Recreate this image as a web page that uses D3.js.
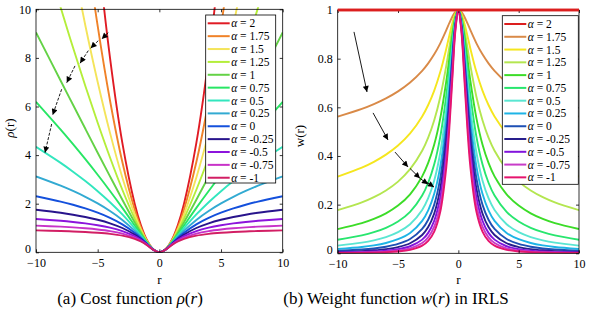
<!DOCTYPE html>
<html><head><meta charset="utf-8">
<script src="https://cdn.jsdelivr.net/npm/d3@7"></script>
<style>
html,body{margin:0;padding:0;background:#fff;}
svg{display:block;}
text{font-family:"Liberation Serif","Times New Roman",serif;fill:#000;}
</style></head>
<body>
<svg id="chart" width="589" height="321"></svg>
<script>
// ---------------- DATA ----------------
const alphaLabels = ["2","1.75","1.5","1.25","1","0.75","0.5","0.25","0","-0.25","-0.5","-0.75","-1"];
const colorsLeft  = ["#e01b24","#f08228","#f4e45a","#b4ee3a","#64d246","#28e664","#32e6be","#32aad2","#1450dc","#28148c","#8c14dc","#c832c8","#d21e64"];
const colorsRight = ["#dc1e1e","#d98a48","#f5e61e","#b4e650","#3cdc28","#28e66e","#5ae6d2","#1eb4e6","#1e50b4","#281e8c","#8214dc","#c83cc8","#e6146e"];

const xTicks = [-10,-5,0,5,10];
const yTicksLeft = [0,2,4,6,8,10];
const yTicksRight = [0,0.2,0.4,0.6,0.8,1];

// cost function rho(r)
const rhoR = [-10,-8,-7,-6,-5,-4,-3,-2,-1.5,-1,-0.5,0,0.5,1,1.5,2,3,4,5,6,7,8,10];
const rho_a2    = [50,32,24.5,18,12.5,8,4.5,2,1.125,0.5,0.125,0,0.125,0.5,1.125,2,4.5,8,12.5,18,24.5,32,50];
const rho_a175  = [31.84,21.47,16.95,12.89,9.315,6.246,3.714,1.765,1.031,0.477,0.123,0,0.123,0.477,1.031,1.765,3.714,6.246,9.315,12.89,16.95,21.47,31.84];
const rho_a15   = [20.57,14.59,11.87,9.335,7.009,4.915,3.082,1.563,0.947,0.455,0.122,0,0.122,0.455,0.947,1.563,3.082,4.915,7.009,9.335,11.87,14.59,20.57];
const rho_a125  = [13.52,10.07,8.425,6.843,5.329,3.900,2.574,1.388,0.871,0.434,0.120,0,0.120,0.434,0.871,1.388,2.574,3.900,5.329,6.843,8.425,10.07,13.52];
const rho_a1    = [9.050,7.062,6.071,5.083,4.099,3.123,2.162,1.236,0.803,0.414,0.118,0,0.118,0.414,0.803,1.236,2.162,3.123,4.099,5.083,6.071,7.062,9.050];
const rho_a075  = [6.192,5.046,4.449,3.831,3.191,2.525,1.829,1.105,0.741,0.396,0.116,0,0.116,0.396,0.741,1.105,1.829,2.525,3.191,3.831,4.449,5.046,6.192];
const rho_a05   = [4.340,3.679,3.318,2.933,2.516,2.061,1.557,0.991,0.685,0.378,0.115,0,0.115,0.378,0.685,0.991,1.557,2.061,2.516,2.933,3.318,3.679,4.340];
const rho_a025  = [3.122,2.740,2.523,2.282,2.011,1.700,1.334,0.891,0.635,0.362,0.113,0,0.113,0.362,0.635,0.891,1.334,1.700,2.011,2.282,2.523,2.740,3.122];
const rho_a0    = [2.308,2.087,1.956,1.806,1.629,1.417,1.151,0.805,0.589,0.347,0.112,0,0.112,0.347,0.589,0.805,1.151,1.417,1.629,1.806,1.956,2.087,2.308];
const rho_am025 = [1.753,1.626,1.547,1.453,1.338,1.193,1.000,0.729,0.548,0.332,0.110,0,0.110,0.332,0.548,0.729,1.000,1.193,1.338,1.453,1.547,1.626,1.753];
const rho_am05  = [1.369,1.296,1.248,1.189,1.114,1.015,0.875,0.663,0.510,0.318,0.109,0,0.109,0.318,0.510,0.663,0.875,1.015,1.114,1.189,1.248,1.296,1.369];
const rho_am075 = [1.097,1.055,1.026,0.989,0.940,0.873,0.771,0.604,0.476,0.305,0.107,0,0.107,0.305,0.476,0.604,0.771,0.873,0.940,0.989,1.026,1.055,1.097];
const rho_am1   = [0.901,0.876,0.859,0.836,0.804,0.758,0.684,0.553,0.445,0.293,0.106,0,0.106,0.293,0.445,0.553,0.684,0.758,0.804,0.836,0.859,0.876,0.901];

// weight function w(r)
const wR = [-10,-8,-7,-6,-5,-4,-3,-2.5,-2,-1.5,-1,-0.75,-0.5,-0.25,0,0.25,0.5,0.75,1,1.5,2,2.5,3,4,5,6,7,8,10];
const w_a2    = [1,1,1,1,1,1,1,1,1,1,1,1,1,1,1,1,1,1,1,1,1,1,1,1,1,1,1,1,1];
const w_a175  = [.56164,.59345,.61324,.63676,.66547,.70177,.74989,.78065,.81777,.86301,.91700,.94574,.97249,.99245,1,.99245,.97249,.94574,.91700,.86301,.81777,.78065,.74989,.70177,.66547,.63676,.61324,.59345,.56164];
const w_a15   = [.31544,.35218,.37606,.40546,.44285,.49248,.56234,.60942,.66874,.74478,.84090,.89443,.94574,.98496,1,.98496,.94574,.89443,.84090,.74478,.66874,.60942,.56234,.49248,.44285,.40546,.37606,.35218,.31544];
const w_a125  = [.17717,.20900,.23061,.25818,.29470,.34561,.42170,.47574,.54687,.64275,.77111,.84590,.91974,.97753,1,.97753,.91974,.84590,.77111,.64275,.54687,.47574,.42170,.34561,.29470,.25818,.23061,.20900,.17717];
const w_a1    = [.09950,.12403,.14142,.16440,.19612,.24254,.31623,.37139,.44721,.55470,.70711,.80000,.89443,.97014,1,.97014,.89443,.80000,.70711,.55470,.44721,.37139,.31623,.24254,.19612,.16440,.14142,.12403,.09950];
const w_a075  = [.05589,.07361,.08672,.10468,.13051,.17020,.23714,.28993,.36572,.47871,.64842,.75659,.86983,.96282,1,.96282,.86983,.75659,.64842,.47871,.36572,.28993,.23714,.17020,.13051,.10468,.08672,.07361,.05589];
const w_a05   = [.03139,.04368,.05318,.06666,.08685,.11944,.17783,.22633,.29907,.41313,.59460,.71554,.84590,.95555,1,.95555,.84590,.71554,.59460,.41313,.29907,.22633,.17783,.11944,.08685,.06666,.05318,.04368,.03139];
const w_a025  = [.01763,.02592,.03261,.04244,.05780,.08382,.13335,.17669,.24457,.35654,.54525,.67672,.82264,.94834,1,.94834,.82264,.67672,.54525,.35654,.24457,.17669,.13335,.08382,.05780,.04244,.03261,.02592,.01763];
const w_a0    = [.00990,.01538,.02000,.02703,.03846,.05882,.10000,.13793,.20000,.30769,.50000,.64000,.80000,.94118,1,.94118,.80000,.64000,.50000,.30769,.20000,.13793,.10000,.05882,.03846,.02703,.02000,.01538,.00990];
const w_am025 = [.00556,.00913,.01226,.01721,.02560,.04128,.07499,.10768,.16355,.26554,.45850,.60527,.77800,.93407,1,.93407,.77800,.60527,.45850,.26554,.16355,.10768,.07499,.04128,.02560,.01721,.01226,.00913,.00556];
const w_am05  = [.00312,.00542,.00752,.01096,.01703,.02897,.05623,.08406,.13375,.22916,.42045,.57243,.75659,.92702,1,.92702,.75659,.57243,.42045,.22916,.13375,.08406,.05623,.02897,.01703,.01096,.00752,.00542,.00312];
const w_am075 = [.00175,.00322,.00461,.00698,.01133,.02033,.04217,.06562,.10937,.19777,.38555,.54138,.73579,.92003,1,.92003,.73579,.54138,.38555,.19777,.10937,.06562,.04217,.02033,.01133,.00698,.00461,.00322,.00175];
const w_am1   = [.00099,.00191,.00283,.00444,.00754,.01427,.03162,.05123,.08944,.17068,.35355,.51200,.71554,.91308,1,.91308,.71554,.51200,.35355,.17068,.08944,.05123,.03162,.01427,.00754,.00444,.00283,.00191,.00099];

// annotation arrows in data units [r1, v1, r2, v2]
const arrowsLeft = [[-4.14,9.04,-4.67,8.78],[-4.95,8.71,-5.57,8.40],[-5.76,8.30,-6.43,7.78],[-6.84,7.67,-7.51,6.98],[-7.92,6.71,-8.65,5.65],[-8.73,5.28,-9.27,4.10]];
const arrowsRight = [[-8.65,0.910,-7.57,0.663],[-7.07,0.577,-5.83,0.466],[-5.25,0.416,-4.17,0.355],[-4.01,0.349,-3.18,0.308],[-3.18,0.308,-2.52,0.284],[-2.76,0.297,-2.02,0.272]];

const rhoSeries = [rho_a2,rho_a175,rho_a15,rho_a125,rho_a1,rho_a075,rho_a05,rho_a025,rho_a0,rho_am025,rho_am05,rho_am075,rho_am1];
const wSeries = [w_a2,w_a175,w_a15,w_a125,w_a1,w_a075,w_a05,w_a025,w_a0,w_am025,w_am05,w_am075,w_am1];

// ---------------- DRAW ----------------
const SERIF = "'Liberation Serif','Times New Roman',serif";
const svg = d3.select("#chart");
const defs = svg.append("defs");
defs.append("marker").attr("id","ah").attr("viewBox","0 0 10 10").attr("refX",10).attr("refY",5)
  .attr("markerWidth",8).attr("markerHeight",6).attr("markerUnits","userSpaceOnUse").attr("orient","auto")
  .append("path").attr("d","M0,0 L10,5 L0,10 Z").attr("fill","#000");

function panel(cfg){
  const x = d3.scaleLinear().domain([-10,10]).range([cfg.x0,cfg.x1]);
  const y = d3.scaleLinear().domain(cfg.yDomain).range([cfg.y0,cfg.y1]);
  const g = svg.append("g");
  const clipId = "clip"+cfg.id;
  defs.append("clipPath").attr("id",clipId).append("rect")
    .attr("x",cfg.x0).attr("y",cfg.y1-2).attr("width",cfg.x1-cfg.x0).attr("height",cfg.y0-cfg.y1+2);

  const line = d3.line().x((d,i)=>x(cfg.xs[i])).y(d=>y(d)).curve(d3.curveCatmullRom.alpha(0.5));
  const lg = g.append("g").attr("clip-path",`url(#${clipId})`);
  cfg.series.forEach((s,i)=>{
    lg.append("path").attr("d",line(s)).attr("fill","none")
      .attr("stroke",cfg.colors[i]).attr("stroke-width",i===0&&cfg.id==="R"?2.4:1.9)
      .attr("stroke-linejoin","round");
  });

  // axes (ticks inside, MATLAB box)
  const ax = [
    g.append("g").attr("transform",`translate(0,${cfg.y0})`).call(d3.axisBottom(x).tickValues(xTicks).tickSize(-3).tickPadding(6).tickFormat(d3.format("d"))),
    g.append("g").attr("transform",`translate(0,${cfg.y1})`).call(d3.axisTop(x).tickValues(xTicks).tickSize(-3).tickFormat("")),
    g.append("g").attr("transform",`translate(${cfg.x0},0)`).call(d3.axisLeft(y).tickValues(cfg.yTicks).tickSize(-3).tickPadding(5).tickFormat(cfg.fmt)),
    g.append("g").attr("transform",`translate(${cfg.x1},0)`).call(d3.axisRight(y).tickValues(cfg.yTicks).tickSize(-3).tickFormat(""))
  ];
  ax.forEach(a=>{
    a.attr("font-family",SERIF).attr("font-size",12);
    a.select(".domain").remove();
    a.selectAll("line").attr("stroke","#000").attr("stroke-width",0.8);
    a.selectAll("text").attr("font-size","12px").style("font-family",SERIF);
  });
  ax[2].selectAll(".tick").filter(d=>d===0).select("text").attr("dy","0em");
  g.append("rect").attr("x",cfg.x0).attr("y",cfg.y1).attr("width",cfg.x1-cfg.x0).attr("height",cfg.y0-cfg.y1)
    .attr("fill","none").attr("stroke","#000").attr("stroke-width",0.8);
  if(cfg.id==="R"){
    g.append("path").attr("d",line(cfg.series[0])).attr("fill","none").attr("stroke",cfg.colors[0]).attr("stroke-width",2.4);
  }

  // arrows
  cfg.arrows.forEach(a=>{
    g.append("line").attr("x1",x(a[0])).attr("y1",y(a[1])).attr("x2",x(a[2])).attr("y2",y(a[3]))
      .attr("stroke","#000").attr("stroke-width",0.9)
      .attr("stroke-dasharray",cfg.dash).attr("marker-end","url(#ah)");
  });

  // legend
  const L = cfg.legend;
  g.append("rect").attr("x",L.x).attr("y",L.y).attr("width",L.w).attr("height",L.h)
    .attr("fill","#fff").attr("stroke","#000").attr("stroke-width",0.8);
  alphaLabels.forEach((lab,i)=>{
    const yy = L.y + 8.3 + i*L.dy;
    g.append("line").attr("x1",L.x+2).attr("x2",L.x+L.lw).attr("y1",yy).attr("y2",yy)
      .attr("stroke",cfg.colors[i]).attr("stroke-width",2);
    const t = g.append("text").attr("x",L.x+L.lw+1.5).attr("y",yy+4).attr("font-size","11.5px");
    t.append("tspan").attr("font-style","italic").text("\u03B1");
    t.append("tspan").text(" = "+lab);
  });

  // axis labels
  g.append("text").attr("x",(cfg.x0+cfg.x1)/2).attr("y",284).attr("text-anchor","middle")
    .attr("font-size","13px").text("r");
  const yl = g.append("text").attr("transform",`translate(${cfg.ylx},${cfg.yly}) rotate(-90)`)
    .attr("text-anchor","middle").attr("font-size","13px");
  cfg.ylab(yl);

  // caption
  const c = svg.append("text").attr("x",cfg.capX).attr("y",304).attr("text-anchor","middle").attr("font-size","17px");
  cfg.caption(c);
}

panel({
  id:"L", x0:36, x1:282.7, y0:252.3, y1:9.3, yDomain:[0,10], xs:rhoR, series:rhoSeries,
  colors:colorsLeft, yTicks:yTicksLeft, fmt:d3.format("d"), arrows:arrowsLeft, dash:"3,1.5",
  legend:{x:205.7,y:15,w:70,h:168,dy:12.87,lw:24},
  ylx:14, yly:128,
  ylab:t=>{ t.append("tspan").attr("font-style","italic").text("\u03C1"); t.append("tspan").text("(r)"); },
  capX:130,
  caption:t=>{ t.append("tspan").text("(a) Cost function "); t.append("tspan").attr("font-style","italic").text("\u03C1");
    t.append("tspan").text("("); t.append("tspan").attr("font-style","italic").text("r"); t.append("tspan").text(")"); }
});

panel({
  id:"R", x0:337.7, x1:579, y0:253.3, y1:10, yDomain:[0,1], xs:wR, series:wSeries,
  colors:colorsRight, yTicks:yTicksRight, fmt:d=>d===0||d===1?String(d):d3.format(".1f")(d), arrows:arrowsRight, dash:null,
  legend:{x:502.3,y:15.7,w:76,h:168.6,dy:12.78,lw:24},
  ylx:304, yly:136,
  ylab:t=>{ t.text("w(r)"); },
  capX:396,
  caption:t=>{ t.append("tspan").text("(b) Weight function "); t.append("tspan").attr("font-style","italic").text("w");
    t.append("tspan").text("("); t.append("tspan").attr("font-style","italic").text("r"); t.append("tspan").text(") in IRLS"); }
});
</script>
</body></html>
